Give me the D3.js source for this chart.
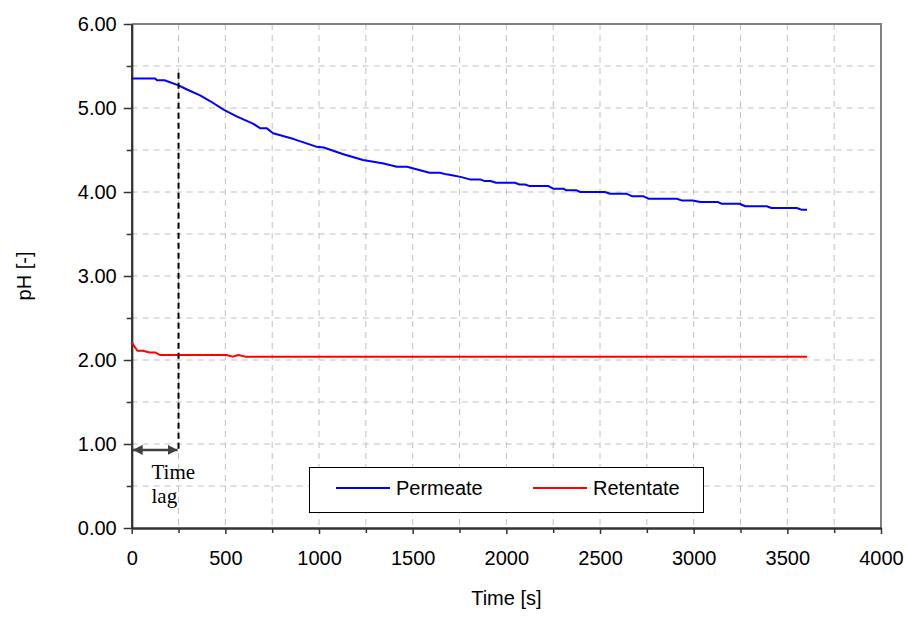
<!DOCTYPE html>
<html>
<head>
<meta charset="utf-8">
<script src="https://cdn.jsdelivr.net/npm/d3@7"></script>
<style>
  html, body { margin: 0; padding: 0; background: #fff; }
  svg { display: block; }
</style>
</head>
<body>
<svg id="chart" width="907" height="635" font-family="'Liberation Sans', Arial, sans-serif"></svg>
<script>
// pH readings over time for the two streams
const permeateTime = [0, 125, 135, 175, 250, 295, 365, 420, 490, 560, 650, 685, 720, 755, 865, 985, 1025, 1130, 1235, 1345, 1415, 1470, 1540, 1590, 1645, 1680, 1710, 1755, 1805, 1860, 1885, 1915, 1945, 2045, 2070, 2100, 2125, 2225, 2250, 2305, 2320, 2375, 2395, 2525, 2555, 2640, 2670, 2730, 2760, 2910, 2935, 2995, 3035, 3130, 3150, 3245, 3275, 3390, 3415, 3550, 3575, 3605];
const permeatePH   = [5.35, 5.35, 5.33, 5.33, 5.27, 5.22, 5.15, 5.08, 4.98, 4.90, 4.81, 4.76, 4.76, 4.70, 4.63, 4.54, 4.53, 4.45, 4.38, 4.34, 4.30, 4.30, 4.26, 4.23, 4.23, 4.21, 4.20, 4.18, 4.15, 4.15, 4.13, 4.13, 4.11, 4.11, 4.09, 4.09, 4.07, 4.07, 4.04, 4.04, 4.02, 4.02, 4.00, 4.00, 3.98, 3.98, 3.95, 3.95, 3.92, 3.92, 3.90, 3.90, 3.88, 3.88, 3.86, 3.86, 3.83, 3.83, 3.81, 3.81, 3.79, 3.79];
const retentateTime = [0, 30, 60, 95, 125, 150, 505, 540, 570, 605, 3605];
const retentatePH   = [2.21, 2.11, 2.11, 2.09, 2.09, 2.06, 2.06, 2.04, 2.06, 2.04, 2.04];

// Axis ticks
const xTicks = [0, 500, 1000, 1500, 2000, 2500, 3000, 3500, 4000];
const xMinorTicks = [250, 750, 1250, 1750, 2250, 2750, 3250, 3750];
const yTicks = [0, 1, 2, 3, 4, 5, 6];
const yMinorTicks = [0.5, 1.5, 2.5, 3.5, 4.5, 5.5];

// Time-lag annotation
const lagTime = 250;
const lagTop = 5.42;
const lagArrowPH = 0.93;

const seriesNames = ["Permeate", "Retentate"];
const seriesColors = ["#0000ff", "#ff0000"];

const svg = d3.select("#chart");
const plotLeft = 131.7, plotRight = 881, plotTop = 24, plotBottom = 528;

const x = d3.scaleLinear().domain([0, 4000]).range([plotLeft, plotRight]);
const y = d3.scaleLinear().domain([0, 6]).range([plotBottom, plotTop]);

// Dashed grid
const grid = svg.append("g").attr("stroke", "#c0c0c0").attr("stroke-width", 1)
  .attr("stroke-dasharray", "6,5");
grid.selectAll("line.v").data(xTicks.concat(xMinorTicks).filter(d => d > 0 && d < 4000))
  .join("line").attr("class", "v")
  .attr("x1", d => x(d)).attr("x2", d => x(d))
  .attr("y1", plotTop).attr("y2", plotBottom);
grid.selectAll("line.h").data(yTicks.concat(yMinorTicks).filter(d => d > 0 && d < 6))
  .join("line").attr("class", "h")
  .attr("x1", plotLeft).attr("x2", plotRight)
  .attr("y1", d => y(d)).attr("y2", d => y(d));

// Top and right frame
svg.append("path")
  .attr("d", `M${plotLeft},${plotTop}H${plotRight}V${plotBottom}`)
  .attr("fill", "none").attr("stroke", "#808080").attr("stroke-width", 2);

// Axes
const fmt = d3.format(".2f");
const yAxis = svg.append("g").attr("transform", `translate(${plotLeft},0)`)
  .call(d3.axisLeft(y).tickValues(yTicks).tickFormat(fmt).tickSize(8).tickPadding(7).tickSizeOuter(0));
const yMinor = svg.append("g").attr("transform", `translate(${plotLeft},0)`)
  .call(d3.axisLeft(y).tickValues(yMinorTicks).tickFormat("").tickSize(5).tickSizeOuter(0));
const xAxis = svg.append("g").attr("transform", `translate(0,${plotBottom})`)
  .call(d3.axisBottom(x).tickValues(xTicks).tickFormat(d3.format("d")).tickSize(6).tickPadding(17).tickSizeOuter(0));
const xMinor = svg.append("g").attr("transform", `translate(0,${plotBottom})`)
  .call(d3.axisBottom(x).tickValues(xMinorTicks).tickFormat("").tickSize(5).tickSizeOuter(0));

[yAxis, yMinor, xAxis, xMinor].forEach(g => {
  g.attr("font-family", null).attr("font-size", null);
  g.select(".domain").attr("stroke", "#333").attr("stroke-width", 2);
  g.selectAll(".tick line").attr("stroke", "#333").attr("stroke-width", 1.5);
  g.selectAll("text").attr("font-size", 20).attr("fill", "#000");
});

// Axis titles, centred on the plot area
svg.append("text")
  .attr("transform", `translate(31,${(plotTop + plotBottom) / 2}) rotate(-90)`)
  .attr("text-anchor", "middle").attr("font-size", 20).text("pH [-]");
svg.append("text")
  .attr("x", (plotLeft + plotRight) / 2).attr("y", 605)
  .attr("text-anchor", "middle").attr("font-size", 20).text("Time [s]");

// Series lines
const line = d3.line().x(d => x(d[0])).y(d => y(d[1]));
const permeate = permeateTime.map((t, i) => [t, permeatePH[i]]);
const retentate = retentateTime.map((t, i) => [t, retentatePH[i]]);
[permeate, retentate].forEach((data, i) => {
  svg.append("path").datum(data)
    .attr("d", line).attr("fill", "none")
    .attr("stroke", seriesColors[i]).attr("stroke-width", 2)
    .attr("stroke-linejoin", "round");
});

// Time-lag marker
svg.append("line")
  .attr("x1", x(lagTime)).attr("x2", x(lagTime))
  .attr("y1", y(lagTop)).attr("y2", y(lagArrowPH))
  .attr("stroke", "#000").attr("stroke-width", 2).attr("stroke-dasharray", "6,4");

const defs = svg.append("defs");
["start", "end"].forEach(k => {
  defs.append("marker").attr("id", "arrow-" + k)
    .attr("viewBox", "0 0 10 10").attr("refX", k === "end" ? 10 : 0).attr("refY", 5)
    .attr("markerWidth", 10).attr("markerHeight", 10).attr("markerUnits", "userSpaceOnUse")
    .attr("orient", "auto")
    .append("path")
    .attr("d", k === "end" ? "M0,0L10,5L0,10Z" : "M10,0L0,5L10,10Z")
    .attr("fill", "#404040");
});
svg.append("line")
  .attr("x1", x(0) + 1).attr("x2", x(lagTime) - 1)
  .attr("y1", y(lagArrowPH)).attr("y2", y(lagArrowPH))
  .attr("stroke", "#404040").attr("stroke-width", 2.5)
  .attr("marker-start", "url(#arrow-start)").attr("marker-end", "url(#arrow-end)");

const lagText = svg.append("text")
  .attr("font-family", "'Liberation Serif', 'Times New Roman', serif")
  .attr("font-size", 21).attr("fill", "#000");
lagText.append("tspan").attr("x", 151.5).attr("y", 479).text("Time");
lagText.append("tspan").attr("x", 151.5).attr("y", 503).text("lag");

// Legend
const legend = svg.append("g");
legend.append("rect")
  .attr("x", 309.5).attr("y", 467.5).attr("width", 394).attr("height", 45)
  .attr("fill", "#fff").attr("stroke", "#000").attr("stroke-width", 1);
const legendX = [336, 533];
seriesNames.forEach((name, i) => {
  legend.append("line")
    .attr("x1", legendX[i]).attr("x2", legendX[i] + 54)
    .attr("y1", 488).attr("y2", 488)
    .attr("stroke", seriesColors[i]).attr("stroke-width", 2);
  legend.append("text")
    .attr("x", legendX[i] + 60).attr("y", 494.5)
    .attr("font-size", 20).attr("fill", "#000").text(name);
});
</script>
</body>
</html>
